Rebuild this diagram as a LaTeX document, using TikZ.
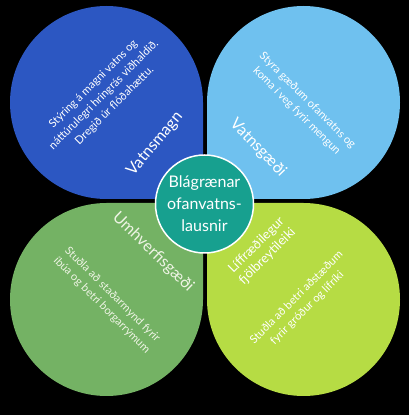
\documentclass[tikz,border=0pt]{standalone}
\usepackage{fontspec}
\setmainfont{Lato}
\usepackage{tikz}
\usetikzlibrary{positioning}

\definecolor{magnblue}{HTML}{2C57C2}
\definecolor{gaedblue}{HTML}{6FC1EF}
\definecolor{umhvgreen}{HTML}{74B264}
\definecolor{liflime}{HTML}{B6DC44}
\definecolor{midteal}{HTML}{17A08F}
\definecolor{paletext}{HTML}{EEF4E4}

\tikzset{
  bodytext/.style={text=white, align=center, font=\fontsize{11.2}{15}\selectfont, inner sep=0pt},
  headtext/.style={text=white, align=center, font=\fontsize{16}{18}\selectfont, inner sep=0pt},
}

\begin{document}
\begin{tikzpicture}[x=1pt,y=1pt]
  \fill[black] (0,0) rectangle (409,415);
  \useasboundingbox (0,0) rectangle (409,415);

  % four leaves
  \fill[magnblue] (203,216) -- (203,312.5) arc[start angle=0, end angle=270, radius=96.5] -- cycle;
  \fill[gaedblue] (207,216) -- (303.5,216) arc[start angle=-90, end angle=180, radius=96.5] -- cycle;
  \fill[umhvgreen] (203,212) -- (106.5,212) arc[start angle=90, end angle=360, radius=96.5] -- cycle;
  \fill[liflime] (207,212) -- (207,115.5) arc[start angle=180, end angle=450, radius=96.5] -- cycle;

  % texts
  \node[bodytext, rotate=45] (magnbody) at (104,320) {Stýring á magni vatns og\\náttúrulegri hringrás viðhaldið.\\Dregið úr flóðahættu.};
  \node[headtext, rotate=50] (magnhead) at (155,271) {Vatnsmagn};

  \node[bodytext, rotate=-45] (gaedbody) at (302,309) {Styra gæðum ofanvatns og\\koma í veg fyrir mengun};
  \node[headtext, rotate=-46] (gaedhead) at (258,267) {Vatnsgæði};

  \node[headtext, text=paletext, rotate=-44] (umhvhead) at (153,163) {Umhverfisgæði};
  \node[bodytext, text=paletext, rotate=-45] (umhvbody) at (107,115) {Stuðla að staðarmynd fyrir\\íbúa og betri borgarrýmum};

  \node[bodytext, font=\fontsize{13}{15.5}\selectfont, rotate=45] (lifhead) at (262,164) {Líffræðilegur\\fjölbreytileiki};
  \node[bodytext, rotate=45] (lifbody) at (302,112) {Stuðla að betri aðstæðum\\fyrir gróður og lífríki};

  % centre
  \node[circle, fill=midteal, draw=white, line width=1.5pt, minimum size=98, inner sep=0pt,
        text=white, align=center, font=\fontsize{16}{22}\selectfont] (centre) at (204.5,211)
        {Blágrænar\\ofanvatns-\\lausnir};
\end{tikzpicture}
\end{document}
